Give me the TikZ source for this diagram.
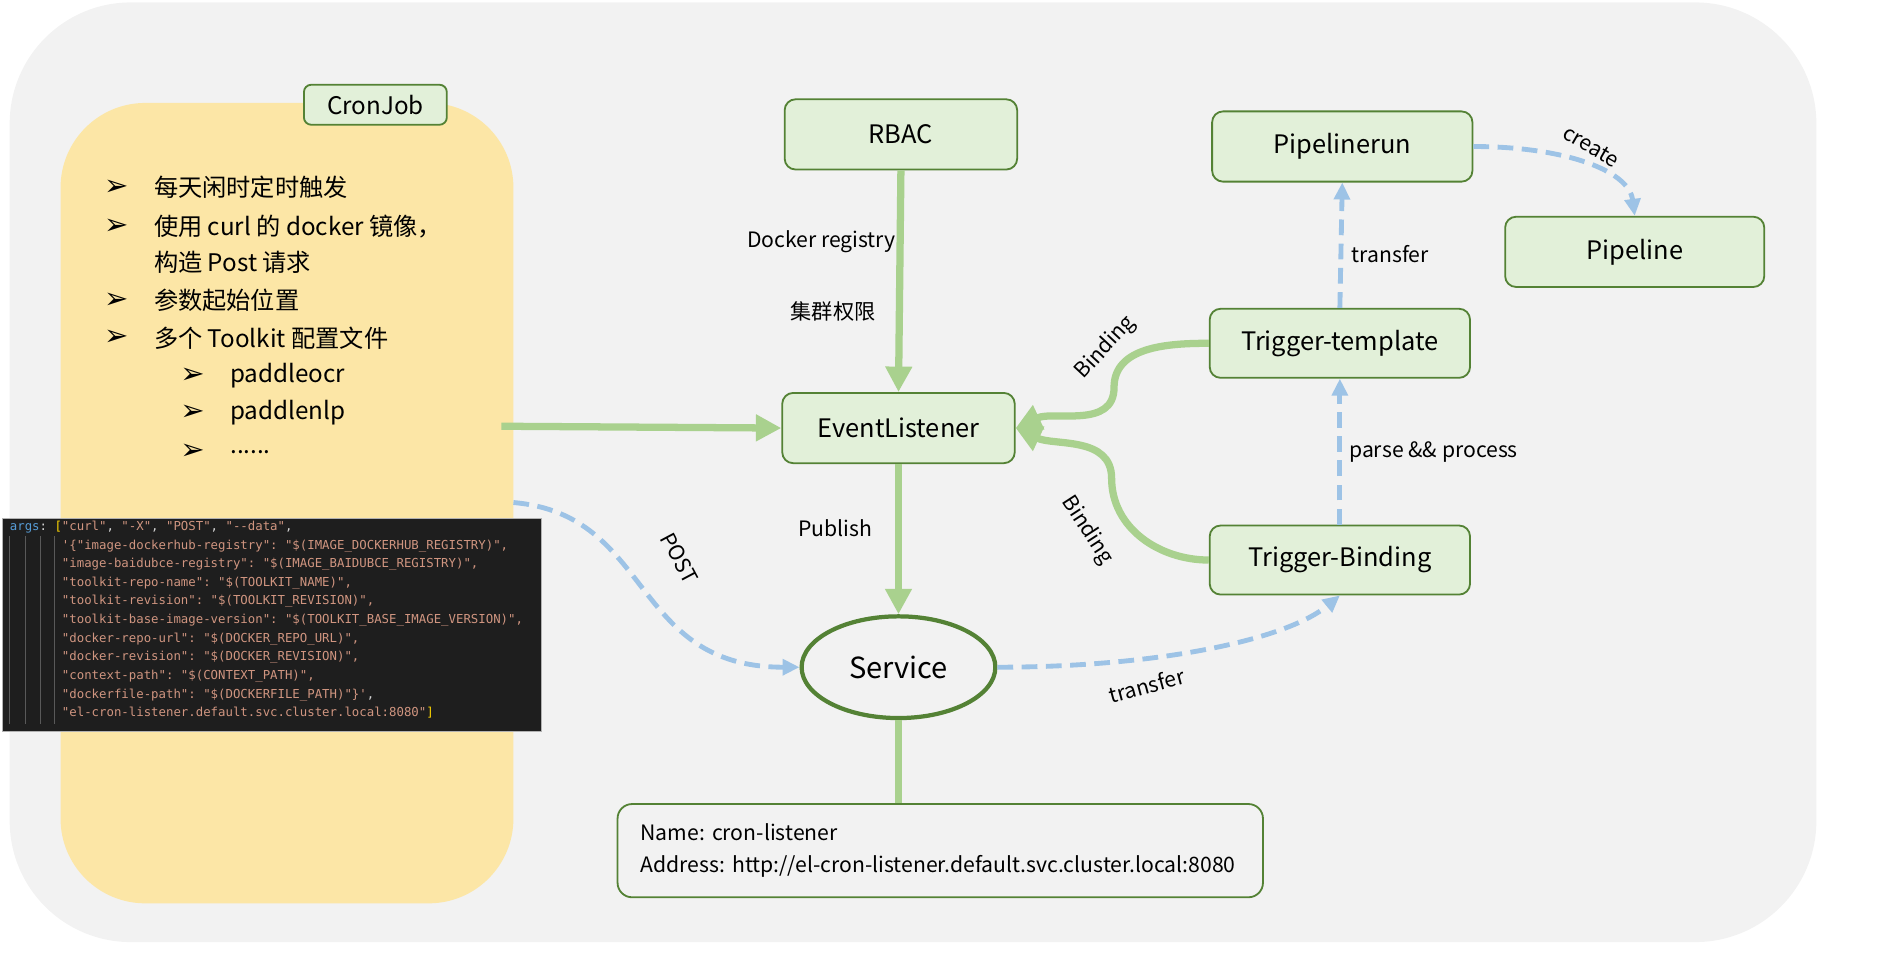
\documentclass[tikz,border=0pt]{standalone}
\usepackage{fontspec}
\setmainfont{Noto Sans CJK SC}
\setmonofont{DejaVu Sans Mono}
\newfontfamily\symfont{DejaVu Sans}
\usetikzlibrary{arrows.meta,shapes.geometric}
\definecolor{bggray}{HTML}{F2F2F2}
\definecolor{cronyellow}{HTML}{FCE6A6}
\definecolor{boxfill}{HTML}{E2F0D9}
\definecolor{boxline}{HTML}{548235}
\definecolor{flowgreen}{HTML}{A9D18E}
\definecolor{flowblue}{HTML}{9DC3E6}
\definecolor{codebg}{HTML}{1E1E1E}
\definecolor{codeblue}{HTML}{569CD6}
\definecolor{codegold}{HTML}{FFD700}
\definecolor{codestr}{HTML}{D09580}
\definecolor{codeplain}{HTML}{D4D4D4}
\newcommand\plain[1]{\textcolor{codeplain}{#1}}
\frenchspacing
\begin{document}
\begin{tikzpicture}
[x=1pt, y=1pt,
 res/.style={draw=boxline, fill=boxfill, line width=1.5, rounded corners=9, minimum width=192, minimum height=58, font=\fontsize{21}{25}\selectfont},
 flow/.style={draw=flowgreen, line width=6, -{Triangle[length=21pt,width=21pt]}},
 hook/.style={draw=flowblue, line width=4, dash pattern=on 13pt off 7pt, -{Triangle[length=14pt,width=13pt]}},
 lbl/.style={font=\fontsize{17.5}{21}\selectfont, inner sep=0},
 tick/.style={font=\symfont\bfseries\fontsize{24}{26}\selectfont, inner sep=0},
 item/.style={font=\fontsize{20}{24}\selectfont, inner sep=0, anchor=west}]
\useasboundingbox (0,0) rectangle (1560,-794.5);
\fill[bggray, rounded corners=100] (8,-2) rectangle (1500,-778);
% cronjob panel
\fill[cronyellow, rounded corners=70] (50,-85) rectangle (424,-746);
\node[res, minimum width=118, minimum height=33, rounded corners=6, font=\fontsize{20}{24}\selectfont] (cron) at (310,-86.5) {CronJob};
\foreach \by/\txt [count=\i] in {155/每天闲时定时触发, 187/使用 curl 的 docker 镜像，, 248/参数起始位置, 279/多个 Toolkit 配置文件}
  {\node[tick] (tick\i) at (96,-\by) {➢};
   \node[item] (item\i) at (127,-\by) {\txt};}
\node[item] (item5) at (127,-217) {构造 Post 请求};
\foreach \by/\txt [count=\i] in {310/paddleocr, 341/paddlenlp}
  {\node[tick] (subtick\i) at (159,-\by) {➢};
   \node[item] (subitem\i) at (190,-\by) {\txt};}
\node[tick] (subtick3) at (159,-373) {➢};
\node[item] (subitem3) at (190,-373) {......};
% code snippet
\fill[codebg] (2,-428) rectangle (447,-604);
\draw[gray!60, line width=0.8] (2,-428) rectangle (447,-604);
\foreach \gx in {8,21,33,45}
  \draw[black!65, line width=0.6] (\gx,-443) -- (\gx,-598);
\node[anchor=north west, inner sep=0, align=left, text=codestr, font=\ttfamily\fontsize{10.2}{15.4}\selectfont] (code) at (8,-430)
  {\textcolor{codeblue}{args}\plain{:} \textcolor{codegold}{[}"curl"\plain{,} "-X"\plain{,} "POST"\plain{,} "--data"\plain{,}\\
   \hspace*{43pt}'\{"image-dockerhub-registry": "\$(IMAGE\_DOCKERHUB\_REGISTRY)",\\
   \hspace*{43pt}"image-baidubce-registry": "\$(IMAGE\_BAIDUBCE\_REGISTRY)",\\
   \hspace*{43pt}"toolkit-repo-name": "\$(TOOLKIT\_NAME)",\\
   \hspace*{43pt}"toolkit-revision": "\$(TOOLKIT\_REVISION)",\\
   \hspace*{43pt}"toolkit-base-image-version": "\$(TOOLKIT\_BASE\_IMAGE\_VERSION)",\\
   \hspace*{43pt}"docker-repo-url": "\$(DOCKER\_REPO\_URL)",\\
   \hspace*{43pt}"docker-revision": "\$(DOCKER\_REVISION)",\\
   \hspace*{43pt}"context-path": "\$(CONTEXT\_PATH)",\\
   \hspace*{43pt}"dockerfile-path": "\$(DOCKERFILE\_PATH)"\}'\plain{,}\\
   \hspace*{43pt}"el-cron-listener.default.svc.cluster.local:8080"\textcolor{codegold}{]}};
% tekton resources
\node[res] (rbac) at (744,-111) {RBAC};
\node[res] (el) at (742,-353.5) {EventListener};
\node[draw=boxline, line width=3.5, ellipse, minimum width=160, minimum height=84, inner sep=0, font=\fontsize{24}{28}\selectfont] (sv) at (742,-551) {Service};
\node[draw=boxline, line width=1.5, rounded corners=12, minimum height=77, text width=495, inner xsep=19, align=left, font=\fontsize{17.5}{26}\selectfont] (info) at (776.5,-702.5)
  {Name: cron-listener\\Address: http://el-cron-listener.default.svc.cluster.local:8080};
\node[res, minimum width=215] (prun) at (1108.5,-121) {Pipelinerun};
\node[res, minimum width=214] (pipe) at (1350,-208) {Pipeline};
\node[res, minimum width=215, minimum height=57] (ttpl) at (1106.5,-283.5) {Trigger-template};
\node[res, minimum width=215, minimum height=57] (tbind) at (1106.5,-462.5) {Trigger-Binding};
\coordinate (cronout) at (414,-352);
\coordinate (postout) at (424,-415);
% solid flows
\draw[flow] (rbac.south) -- (el.north);
\draw[flow] (cronout) -- (el.west);
\draw[flow] (el.south) -- (sv.north);
\draw[draw=flowgreen, line width=6] (sv.south) -- (info.north -| sv.south);
\draw[flow] (ttpl.west) to[out=180,in=90] (920,-320) to[out=-90,in=25] (el.east);
\draw[flow] (tbind.west) to[out=180,in=-90] (918,-395) to[out=90,in=-25] (el.east);
% dashed flows
\draw[hook] (postout) .. controls (540,-425) and (520,-551) .. (sv.west);
\draw[hook] (sv.east) .. controls (950,-551) and (1060,-530) .. (tbind.south);
\draw[hook] (tbind.north) -- (ttpl.south);
\draw[hook] (ttpl.north) -- (prun.south);
\draw[hook] (prun.east) .. controls (1290,-121) and (1345,-140) .. (pipe.north);
% labels
\node[lbl, anchor=east] (reglbl) at (740,-200) {Docker registry};
\node[lbl] (authlbl) at (688,-257) {集群权限};
\node[lbl] (publbl) at (690,-436) {Publish};
\node[lbl, rotate=47] (bindlbl1) at (913,-287) {Binding};
\node[lbl, rotate=-57] (bindlbl2) at (898,-438) {Binding};
\node[lbl, rotate=-62] (postlbl) at (561,-461) {POST};
\node[lbl, rotate=15] (translbl1) at (947,-566) {transfer};
\node[lbl, anchor=west] (parselbl) at (1114,-373) {parse \&\& process};
\node[lbl, anchor=west] (translbl2) at (1116,-210) {transfer};
\node[lbl, rotate=-30] (createlbl) at (1314,-121) {create};
\end{tikzpicture}
\end{document}
